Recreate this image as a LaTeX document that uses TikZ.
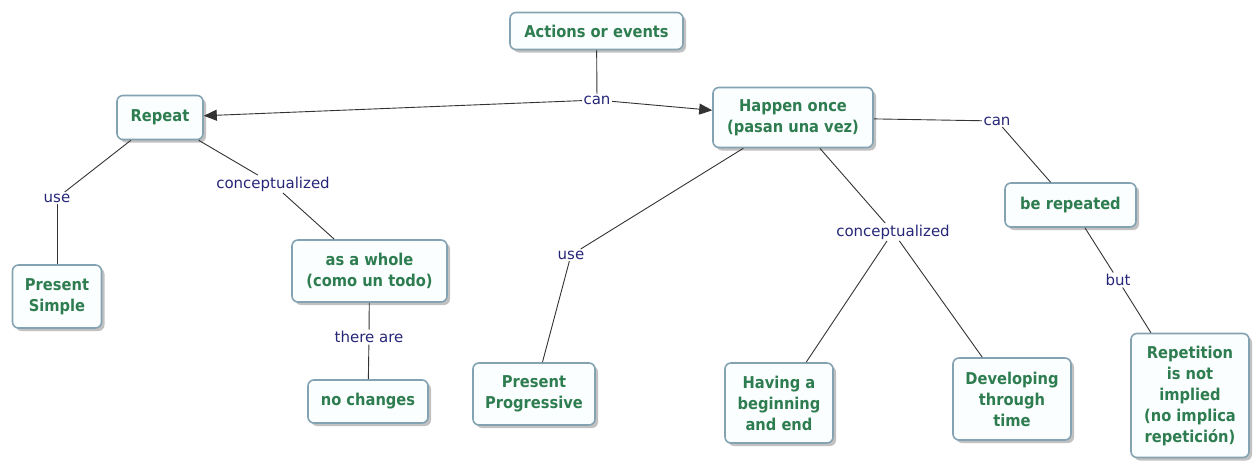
\documentclass[tikz,border=0pt]{standalone}
\usepackage{fontspec}
\setmainfont{DejaVu Sans}
\newfontfamily\conceptfont{DejaVu Sans Condensed}
\usetikzlibrary{arrows.meta,shadows}
\definecolor{nodetext}{RGB}{46,125,80}
\definecolor{cborder}{RGB}{132,163,178}
\definecolor{cfill}{RGB}{251,254,254}
\definecolor{linkc}{RGB}{38,38,120}
\tikzset{
  concept/.style={draw=cborder, line width=1.6pt, rounded corners=6pt, fill=cfill,
    text=nodetext, font=\conceptfont\fontsize{16.3}{21}\selectfont\bfseries, align=center, inner sep=0pt,
    drop shadow={shadow xshift=3pt, shadow yshift=-3pt, fill=black!35, opacity=0.7}},
  linklabel/.style={text=linkc, font=\fontsize{15}{18}\selectfont, inner sep=1.5pt},
  link/.style={draw=black!80, line width=0.9pt},
  arr/.style={-{Triangle[length=13pt,width=11pt]}},
}
\begin{document}
\begin{tikzpicture}[x=1pt,y=-1pt]
\useasboundingbox (0,0) rectangle (1256,464);
% concepts
\node[concept, minimum width=173pt, minimum height=37pt] (act) at (596.5,31) {Actions or events};
\node[concept, minimum width=86pt, minimum height=44pt] (rep) at (160,117.5) {Repeat};
\node[concept, minimum width=160pt, minimum height=60pt] (hap) at (793,117.5) {Happen once\\(pasan una vez)};
\node[concept, minimum width=89pt, minimum height=63pt] (ps) at (57,296.5) {Present\\Simple};
\node[concept, minimum width=155pt, minimum height=62pt] (whole) at (369.5,271) {as a whole\\(como un todo)};
\node[concept, minimum width=120pt, minimum height=43pt] (noch) at (368,401.5) {no changes};
\node[concept, minimum width=122pt, minimum height=62pt] (pp) at (534,394) {Present\\Progressive};
\node[concept, minimum width=108pt, minimum height=80pt] (hav) at (779,403) {Having a\\beginning\\and end};
\node[concept, minimum width=118pt, minimum height=82pt] (dev) at (1012,399) {Developing\\through\\time};
\node[concept, minimum width=131pt, minimum height=44pt] (ber) at (1070.5,205) {be repeated};
\node[concept, minimum width=118pt, minimum height=124pt] (rpt) at (1190,395.5) {Repetition\\is not\\implied\\(no implica\\repetición)};
% link labels
\node[linklabel] (can1) at (597,100) {can};
\node[linklabel] (use1) at (57,198) {use};
\node[linklabel] (con1) at (273,184) {conceptualized};
\node[linklabel] (there) at (369,337) {there are};
\node[linklabel] (use2) at (571,255) {use};
\node[linklabel] (con2) at (893,232) {conceptualized};
\node[linklabel] (can2) at (997,121) {can};
\node[linklabel] (but) at (1118,280) {but};
% connectors
\draw[link] (act) -- (can1);
\draw[link,arr] (can1) -- (rep);
\draw[link,arr] (can1) -- (hap);
\draw[link] (rep) -- (use1);
\draw[link] (use1) -- (ps);
\draw[link] (rep) -- (con1);
\draw[link] (con1) -- (whole);
\draw[link] (whole) -- (there);
\draw[link] (there) -- (noch);
\draw[link] (hap) -- (use2);
\draw[link] (use2) -- (pp);
\draw[link] (hap) -- (con2);
\draw[link] (con2) -- (hav);
\draw[link] (con2) -- (dev);
\draw[link] (hap) -- (can2);
\draw[link] (can2) -- (ber);
\draw[link] (ber) -- (but);
\draw[link] (but) -- (rpt);
\end{tikzpicture}
\end{document}
